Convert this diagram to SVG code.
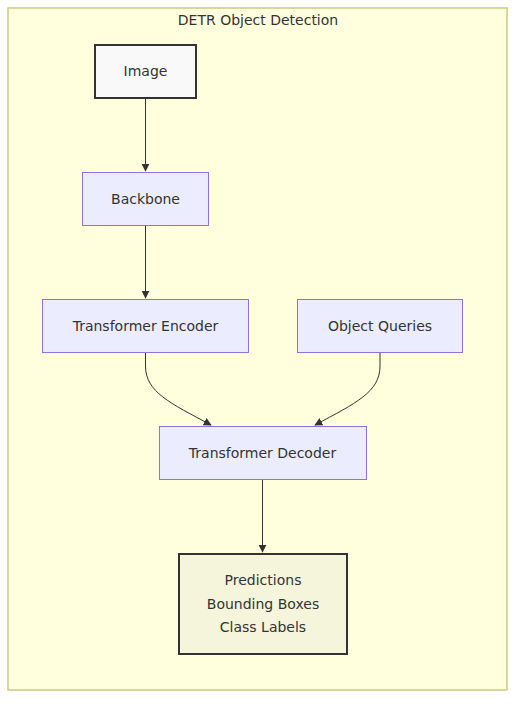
<svg xmlns="http://www.w3.org/2000/svg" width="524" height="709" viewBox="0 0 524 709">
<style>
text{font-family:"DejaVu Sans","Noto Sans",sans-serif;font-size:14px;fill:#333;text-anchor:middle;dominant-baseline:central}
.n rect{fill:#ECECFF;stroke:#9370DB;stroke-width:1}
.e{fill:none;stroke:#333;stroke-width:1}
</style>
<defs>
<marker id="ah" viewBox="0 0 10 10" refX="9" refY="5" markerWidth="8" markerHeight="8" markerUnits="userSpaceOnUse" orient="auto">
<path d="M0,0 L10,5 L0,10 z" fill="#333"/>
</marker>
</defs>
<g id="cluster">
<rect x="8" y="8" width="499" height="682" fill="#FFFFDE" stroke="#CCCC7A" stroke-width="1.5"/>
<text x="258" y="20">DETR Object Detection</text>
</g>
<g id="edges">
<path class="e" d="M145.5,98 L145.5,171" marker-end="url(#ah)"/>
<path class="e" d="M145.5,225 L145.5,298" marker-end="url(#ah)"/>
<path class="e" d="M145.5,352 L145.5,366 C145.5,392 170,403 211,425" marker-end="url(#ah)"/>
<path class="e" d="M380,352 L380,366 C380,392 356,403 315,425" marker-end="url(#ah)"/>
<path class="e" d="M262.5,479 L262.5,552" marker-end="url(#ah)"/>
</g>
<g id="image">
<rect x="95" y="45" width="101" height="53" fill="#F9F9F9" stroke="#333" stroke-width="2"/>
<text x="145.5" y="71">Image</text>
</g>
<g id="backbone" class="n">
<rect x="82.5" y="172.5" width="126" height="53"/>
<text x="145.5" y="198.5">Backbone</text>
</g>
<g id="encoder" class="n">
<rect x="42.5" y="299.5" width="206" height="53"/>
<text x="145.5" y="325.5">Transformer Encoder</text>
</g>
<g id="queries" class="n">
<rect x="297.5" y="299.5" width="165" height="53"/>
<text x="380" y="325.5">Object Queries</text>
</g>
<g id="decoder" class="n">
<rect x="159.5" y="426.5" width="207" height="53"/>
<text x="262.5" y="452.5">Transformer Decoder</text>
</g>
<g id="predictions">
<rect x="179" y="554" width="168" height="100" fill="#F5F5DC" stroke="#333" stroke-width="2"/>
<text x="263" y="579.5">Predictions</text>
<text x="263" y="603.5">Bounding Boxes</text>
<text x="263" y="627">Class Labels</text>
</g>
</svg>
